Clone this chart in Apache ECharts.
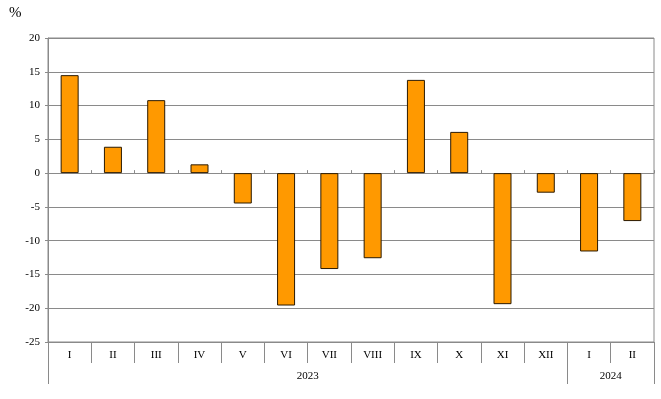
<!DOCTYPE html>
<html>
<head>
<meta charset="utf-8">
<script src="https://cdn.jsdelivr.net/npm/echarts@6/dist/echarts.min.js"></script>
<style>
    html, body { margin: 0; padding: 0; background: #fff; }
    #chart { width: 661px; height: 399px; }
</style>
</head>
<body>
<div id="chart"></div>
<script>
const months = ['I', 'II', 'III', 'IV', 'V', 'VI', 'VII', 'VIII', 'IX', 'X', 'XI', 'XII', 'I', 'II'];
const values = [14.5, 3.9, 10.8, 1.3, -4.5, -19.6, -14.2, -12.6, 13.8, 6.1, -19.4, -2.9, -11.6, -7.1];
const years = ['2023', '2024'];
const yearBounds = [0, 12, 14];
const yearCenters = [6, 13];
const yTicks = { min: -25, max: 20, step: 5 };

const chart = echarts.init(document.getElementById('chart'));
const serif = 'Liberation Serif';
const gridColor = '#8a8a8a';

// 月份 -> 年份 标签
function yearLabel(v) {
    const i = yearCenters.indexOf(v);
    return i >= 0 ? years[i] : '';
}

const option = {
    animation: false,
    grid: { left: 48, right: 7, top: 38, bottom: 57, show: true, borderColor: gridColor, borderWidth: 1 },
    graphic: [{
        type: 'text', left: 9, top: 6,
        style: { text: '%', font: '15px ' + serif, fill: '#000' }
    }],
    xAxis: [{
        type: 'category',
        data: months,
        position: 'bottom',
        axisLine: { onZero: false, lineStyle: { color: gridColor } },
        axisTick: { show: true, length: 21, interval: 0, lineStyle: { color: gridColor } },
        axisLabel: { interval: 0, margin: 8, color: '#000', fontFamily: serif, fontSize: 11 }
    }, {
        type: 'value',
        min: 0, max: 14,
        position: 'bottom',
        axisLine: { show: false, onZero: false },
        splitLine: { show: false },
        axisTick: { show: true, length: 42, customValues: yearBounds, lineStyle: { color: gridColor } },
        axisLabel: { margin: 29, customValues: yearCenters, formatter: yearLabel, color: '#000', fontFamily: serif, fontSize: 11 }
    }, {
        type: 'category',
        data: months,
        axisLine: { show: true, onZero: true, lineStyle: { color: gridColor } },
        axisTick: { show: true, length: 3, interval: 0, lineStyle: { color: gridColor } },
        axisLabel: { show: false }
    }],
    yAxis: {
        type: 'value',
        min: yTicks.min, max: yTicks.max, interval: yTicks.step,
        axisLine: { show: true, lineStyle: { color: gridColor } },
        axisTick: { show: true, length: 3, lineStyle: { color: gridColor } },
        splitLine: { lineStyle: { color: gridColor, width: 1 } },
        axisLabel: { margin: 8, color: '#000', fontFamily: serif, fontSize: 11 }
    },
    series: [{
        type: 'bar',
        xAxisIndex: 0,
        data: values,
        barWidth: 18,
        itemStyle: { color: '#FF9900', borderColor: '#2b1a00', borderWidth: 1 }
    }]
};

chart.setOption(option);
window.onresize = () => chart.resize();
</script>
</body>
</html>
